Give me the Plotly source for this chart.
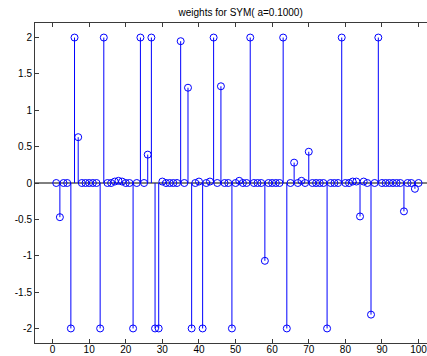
import plotly.graph_objects as go

title_text = "weights for SYM( a=0.1000)"
index = list(range(1, 101))
weights = [
    0, -0.47, 0, 0, -2, 2, 0.63, 0, 0, 0,
    0, 0, -2, 2, 0, 0, 0.02, 0.03, 0.02, 0,
    0, -2, 0, 2, 0, 0.39, 2, -2, -2, 0.02,
    0, 0, 0, 0, 1.95, 0, 1.31, -2, 0, 0.02,
    -2, 0, 0.02, 2, 0, 1.33, 0, 0, -2, 0,
    0.03, 0, 0, 2, 0, 0, 0, -1.07, 0, 0,
    0, 0, 2, -2, 0, 0.28, 0, 0.03, 0, 0.43,
    0, 0, 0, 0, -2, 0, 0, 0, 2, 0,
    0, 0.02, 0.02, -0.46, 0.02, 0, -1.81, 0, 2, 0,
    0, 0, 0, 0, 0, -0.39, 0, 0, -0.08, 0,
]
x_ticks = list(range(0, 101, 10))
y_ticks = [-2, -1.5, -1, -0.5, 0, 0.5, 1, 1.5, 2]
y_tick_labels = ["-2", "-1.5", "-1", "-0.5", "0", "0.5", "1", "1.5", "2"]

BLUE = "#0000FF"
AX = "#3a3a3a"
FONT = "Liberation Sans"

# stems built from the data
sx, sy = [], []
for xv, yv in zip(index, weights):
    sx += [xv, xv, None]
    sy += [0, yv, None]

fig = go.Figure()
fig.add_trace(go.Scatter(x=[-10, 110], y=[0, 0], mode="lines",
                         line=dict(color="black", width=1), hoverinfo="skip"))
fig.add_trace(go.Scatter(x=sx, y=sy, mode="lines",
                         line=dict(color=BLUE, width=1), hoverinfo="skip"))
fig.add_trace(go.Scatter(x=index, y=weights, mode="markers",
                         marker=dict(symbol="circle-open", size=7,
                                     color=BLUE, line=dict(width=1, color=BLUE))))

fig.update_layout(
    width=427, height=356,
    margin=dict(l=35, r=0, t=23, b=13, autoexpand=False),
    paper_bgcolor="white", plot_bgcolor="white",
    showlegend=False,
    font=dict(family=FONT, size=10, color="black"),
    title=dict(text=title_text, x=224/427, xanchor="center", xref="paper",
               y=1 - 12/356, yanchor="middle", yref="container",
               font=dict(family=FONT, size=10, color="black")),
)
fig.update_xaxes(range=[-4.8, 102.3], tickvals=x_ticks, ticks="inside", ticklen=4,
                 tickcolor=AX, showline=True, linecolor=AX, linewidth=1,
                 mirror="ticks", showgrid=False, zeroline=False,
                 automargin=False, ticklabeloverflow="allow",
                 ticklabelstandoff=-3,
                 tickfont=dict(size=10, family=FONT))
fig.update_yaxes(range=[-2.2, 2.2], tickvals=y_ticks, ticktext=y_tick_labels,
                 ticks="inside", ticklen=4, tickcolor=AX, showline=True,
                 linecolor=AX, linewidth=1, mirror=False, showgrid=False,
                 zeroline=False, automargin=False,
                 tickfont=dict(size=10, family=FONT))

fig.write_html("out.html")
